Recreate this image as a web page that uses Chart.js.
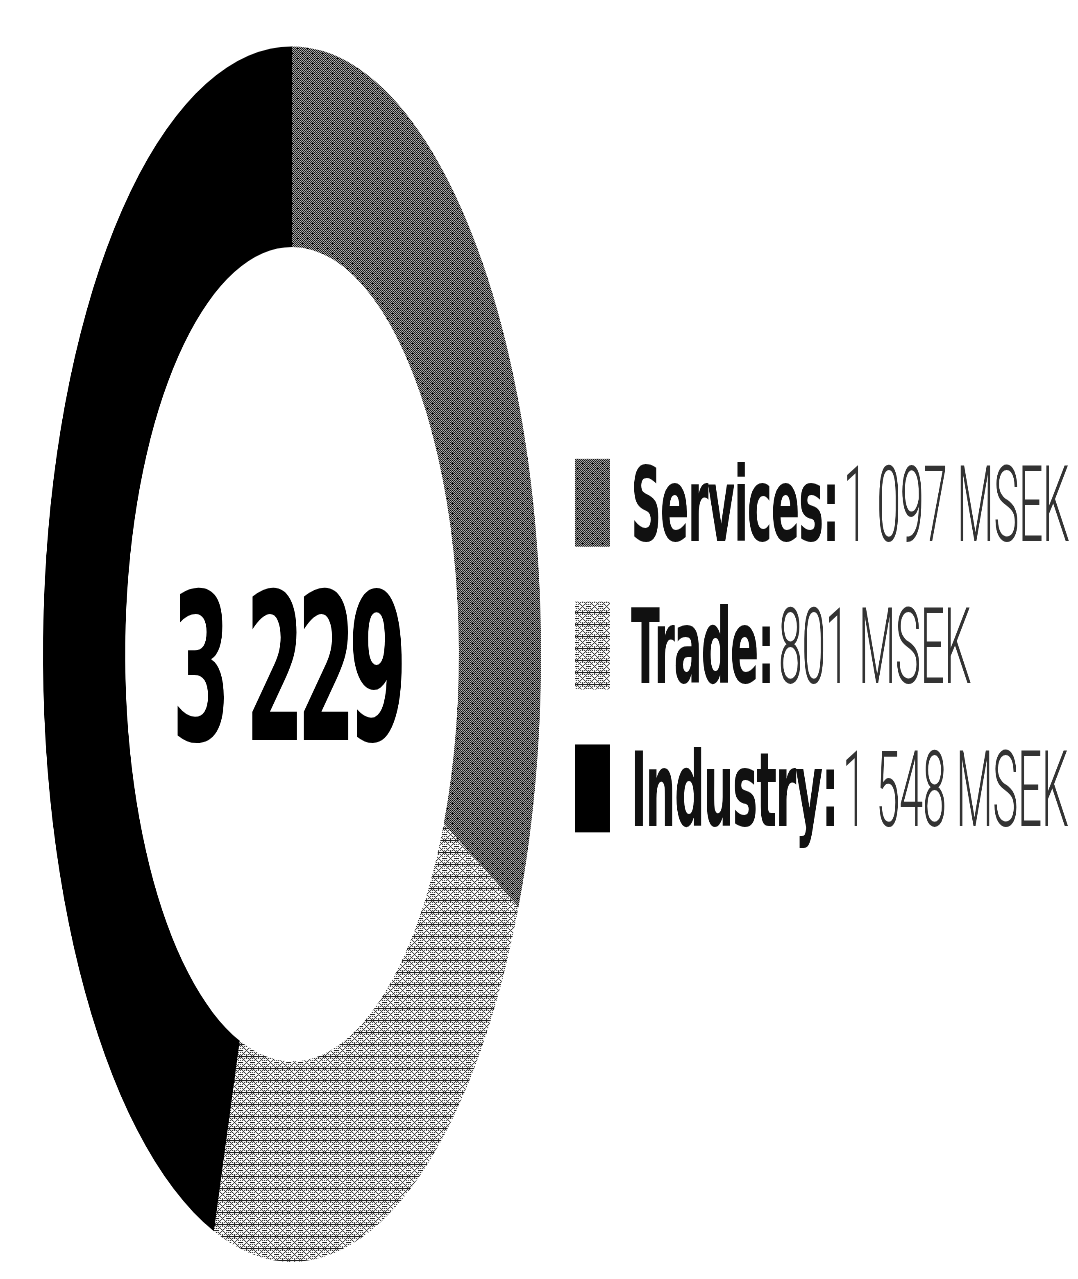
<!DOCTYPE html>
<html>
<head>
<meta charset="utf-8">
<script src="https://cdn.jsdelivr.net/npm/chart.js@4.4.1/dist/chart.umd.min.js"></script>
<style>
html, body { margin: 0; padding: 0; background: #fff; }
</style>
</head>
<body>
<canvas id="sector-split" width="1078" height="524" style="width:1078px;height:1279px"></canvas>
<script>
const sectorLabels = ['Services', 'Trade', 'Industry'];
const sectorValues = [1097, 801, 1548];
const centreLabel = '3 229';
const unitLabel = 'MSEK';

// the whole picture is drawn squat and stretched tall
const stretchY = 1279 / 524;

function makePattern(bg, draw, w, h) {
    const tile = document.createElement('canvas');
    tile.width = w;
    tile.height = h;
    const g = tile.getContext('2d');
    g.fillStyle = bg;
    g.fillRect(0, 0, w, h);
    g.fillStyle = '#000';
    draw(g);
    const p = g.createPattern(tile, 'repeat');
    p.setTransform(new DOMMatrix().scale(1, 1 / stretchY));
    return p;
}

const servicesFill = makePattern('#c4c4c4', function(g) {
    for (let y = 0; y < 10; y++) {
        for (let x = 0; x < 10; x++) {
            if ((x + y) % 2 === 0) g.fillRect(x, y, 1, 1);
        }
    }
    [[2, 3], [7, 8]].forEach(function(c) {
        g.fillRect(c[0] - 1, c[1], 3, 1);
        g.fillRect(c[0], c[1] - 1, 1, 3);
    });
}, 10, 10);

const tradeFill = makePattern('#fff', function(g) {
    g.fillStyle = '#222';
    for (let y = 0; y < 12; y += 2) {
        for (let x = 0; x < 12; x += 2) {
            const d = Math.abs(x - 6) + Math.abs(y - 6);
            if (d !== 2) g.fillRect(x, y, 1, 1);
        }
    }
    [[1, 1], [3, 3], [9, 3], [11, 1], [1, 11], [11, 11], [3, 9], [9, 9],
     [5, 5], [7, 7], [5, 7], [7, 5], [1, 6], [11, 6], [6, 1], [6, 11]].forEach(function(c) {
        g.fillRect(c[0], c[1], 1, 1);
    });
    for (let x = 0; x < 12; x++) g.fillRect(x, 0, 1, 1);
}, 12, 12);

const sectorFills = [servicesFill, tradeFill, '#000'];

function spaced(v) {
    return String(v).replace(/\B(?=(\d{3})+(?!\d))/g, ' ');
}

const centreText = {
    id: 'centreText',
    afterDraw(chart) {
        const ctx = chart.ctx;
        const arc = chart.getDatasetMeta(0).data[0];
        ctx.save();
        ctx.font = 'bold 84px "DejaVu Sans"';
        ctx.letterSpacing = '-7px';
        ctx.fillStyle = '#000';
        ctx.textAlign = 'center';
        ctx.textBaseline = 'alphabetic';
        ctx.fillText(centreLabel, arc.x - 6, 303);
        ctx.restore();
    }
};

const sideLegend = {
    id: 'sideLegend',
    afterDraw(chart) {
        const ctx = chart.ctx;
        const rows = [206, 264.5, 323];
        ctx.save();
        sectorLabels.forEach(function(label, i) {
            const y = rows[i];
            ctx.fillStyle = sectorFills[i];
            ctx.fillRect(575, y - 18, 35, 36);

            ctx.fillStyle = '#111';
            ctx.textBaseline = 'alphabetic';
            ctx.font = 'bold 42px "DejaVu Sans"';
            ctx.letterSpacing = '-1px';
            const head = label + ':';
            ctx.fillText(head, 631, y + 15.5);
            const x2 = 631 + ctx.measureText(head).width + 5;
            ctx.fillStyle = '#333';
            ctx.font = '300 43px Roboto';
            ctx.letterSpacing = '-0.5px';
            ctx.fillText(spaced(sectorValues[i]) + ' ' + unitLabel, x2, y + 15.5);
        });
        ctx.restore();
    }
};

const ctx_sector = document.getElementById('sector-split').getContext('2d');
const sectorChart = new Chart(ctx_sector, {
    type: 'doughnut',
    data: {
        labels: sectorLabels,
        datasets: [{
            data: sectorValues,
            backgroundColor: sectorFills,
            borderWidth: 0
        }]
    },
    options: {
        responsive: false,
        devicePixelRatio: stretchY,
        animation: false,
        cutout: '67%',
        layout: {
            padding: { left: 43, right: 537, top: 19, bottom: 7 }
        },
        plugins: {
            legend: { display: false },
            tooltip: { enabled: false }
        }
    },
    plugins: [centreText, sideLegend]
});
</script>
</body>
</html>
